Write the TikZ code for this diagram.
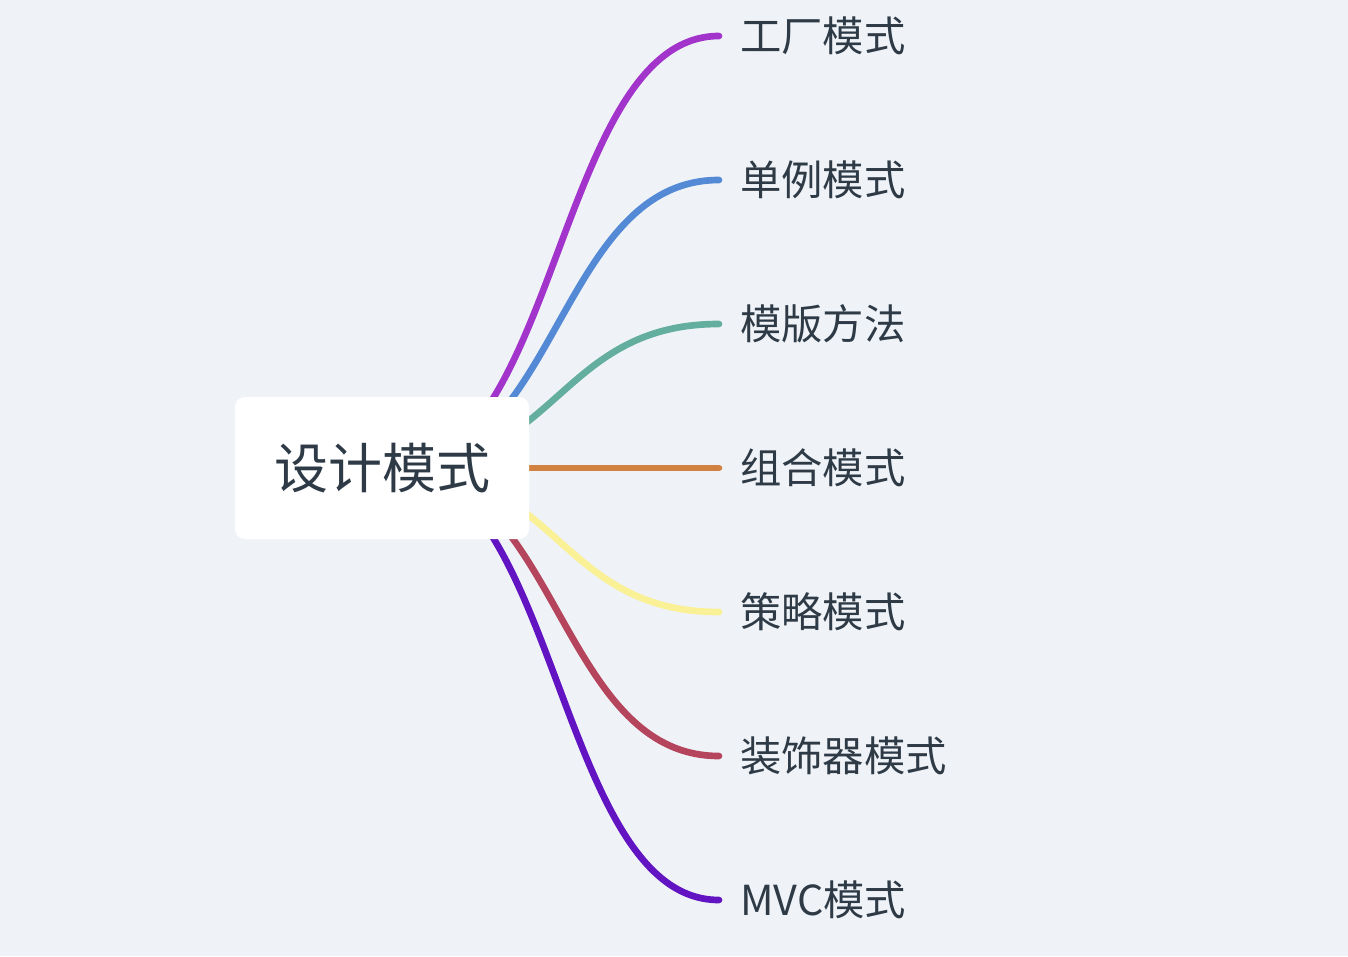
\documentclass[tikz,border=0pt]{standalone}
\usepackage{fontspec}
\setmainfont{Noto Sans CJK SC}
\definecolor{bgcol}{HTML}{EFF3F7}
\definecolor{txtcol}{HTML}{2E3A46}
\definecolor{cFactory}{HTML}{A234CC}
\definecolor{cSingle}{HTML}{5489D6}
\definecolor{cTempl}{HTML}{63AE9E}
\definecolor{cComp}{HTML}{D18240}
\definecolor{cStrat}{HTML}{FAF096}
\definecolor{cDeco}{HTML}{B5455C}
\definecolor{cMvc}{HTML}{6214C2}

\begin{document}
\begin{tikzpicture}[x=0.75pt,y=-0.75pt,
  root/.style={fill=white,rounded corners=7.5pt,minimum width=220.5pt,minimum height=106.5pt,inner sep=0pt,
    text=txtcol,font=\fontsize{40.5}{48}\selectfont,text height=35.6pt,text depth=4.9pt},
  leaf/.style={anchor=west,inner sep=0pt,text=txtcol,font=\fontsize{31}{36}\selectfont,text height=27.3pt,text depth=3.7pt},
  branch/.style={line width=5pt,line cap=round}]
  \useasboundingbox[fill=bgcol] (0,0) rectangle (1348,956);
  \coordinate (src) at (395,468);
  \foreach \y/\n/\c/\t in {36/factory/cFactory/工厂模式, 180/single/cSingle/单例模式, 324/templ/cTempl/模版方法,
      468/comp/cComp/组合模式, 612/strat/cStrat/策略模式, 756/deco/cDeco/装饰器模式, 900/mvc/cMvc/MVC模式} {
    \node[leaf] (\n) at (740,\y) {\t};
    \coordinate (e\n) at (719,\y);
    \draw[branch,\c] (src) .. controls (558,468) and (558,\y) .. (e\n);
  }
  \node[root] (main) at (382,468) {设计模式};
\end{tikzpicture}
\end{document}
